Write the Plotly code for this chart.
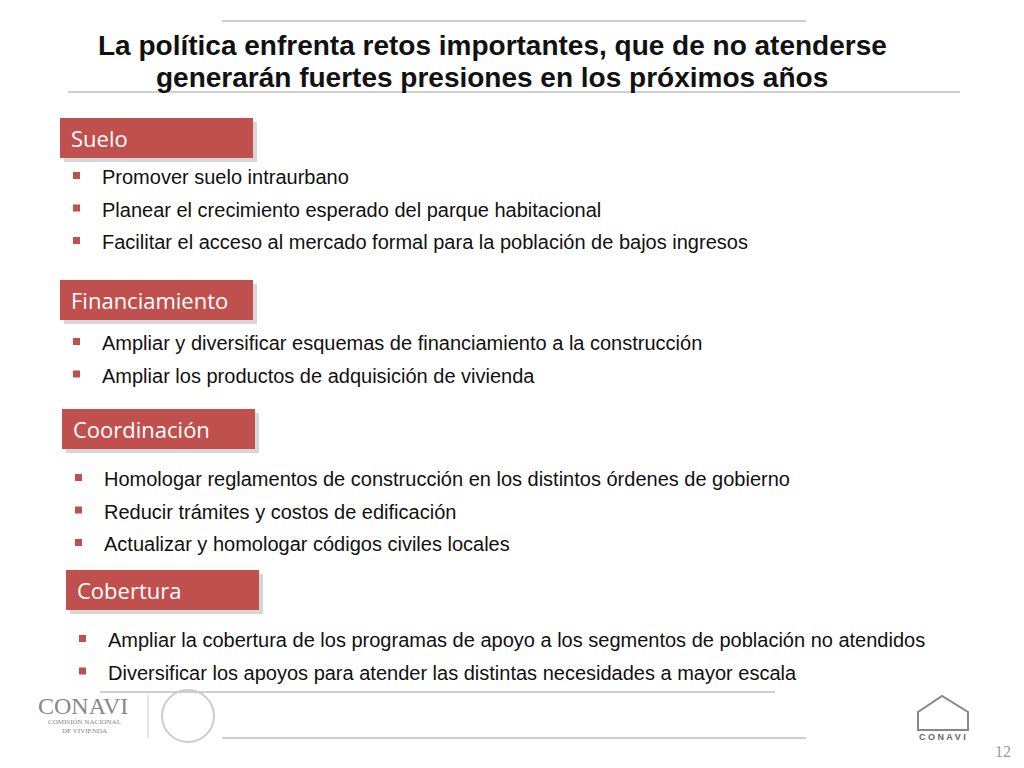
import plotly.graph_objects as go

title_lines = ["La política enfrenta retos importantes, que de no atenderse",
               "generarán fuertes presiones en los próximos años"]
sections = ["Suelo", "Financiamiento", "Coordinación", "Cobertura"]
section_box_y = [138, 300, 429, 590]
section_box_x = [60, 60, 62, 66]
bullets = [
    ["Promover suelo intraurbano",
     "Planear el crecimiento esperado del parque habitacional",
     "Facilitar el acceso al mercado formal para la población de bajos ingresos"],
    ["Ampliar y diversificar esquemas de financiamiento a la construcción",
     "Ampliar los productos de adquisición de vivienda"],
    ["Homologar reglamentos de construcción en los distintos órdenes de gobierno",
     "Reducir trámites y costos de edificación",
     "Actualizar y homologar códigos civiles locales"],
    ["Ampliar la cobertura de los programas de apoyo a los segmentos de población no atendidos",
     "Diversificar los apoyos para atender las distintas necesidades a mayor escala"],
]
bullet_first_y = [177, 343, 479, 640]
page_number = "12"

RED = "#c0504d"
fig = go.Figure()
shapes, ann = [], []

for i, t in enumerate(title_lines):
    ann.append(dict(x=492, y=45 + 32 * i, text=f"<b>{t}</b>", showarrow=False,
                    font=dict(family="Liberation Sans, Arial", size=28, color="#111")))

for x0, x1, y in [(222, 806, 21), (68, 960, 92), (100, 775, 692), (222, 806, 738)]:
    shapes.append(dict(type="line", x0=x0, x1=x1, y0=y, y1=y,
                       line=dict(color="#cfcfcf", width=2)))

for s, bx, by, items, fy in zip(sections, section_box_x, section_box_y, bullets, bullet_first_y):
    shapes.append(dict(type="rect", x0=bx + 4, x1=bx + 197, y0=by - 16, y1=by + 24,
                       fillcolor="#bbbbbb", line=dict(width=0), opacity=0.6))
    shapes.append(dict(type="rect", x0=bx, x1=bx + 193, y0=by - 20, y1=by + 20,
                       fillcolor=RED, line=dict(width=0)))
    ann.append(dict(x=bx + 9, y=by, text=s, showarrow=False, xanchor="left",
                    font=dict(family="Open Sans, Lato", size=22, color="white")))
    for j, b in enumerate(items):
        y = fy + 32.5 * j
        bxp = bx + 13
        shapes.append(dict(type="rect", x0=bxp, x1=bxp + 7, y0=y - 5, y1=y + 2,
                           fillcolor=RED, line=dict(width=0)))
        ann.append(dict(x=bxp + 27, y=y, text=b, showarrow=False, xanchor="left",
                        font=dict(family="Liberation Sans, Arial", size=20, color="#111")))

ann += [
    dict(x=36, y=706, text="CONAVI", showarrow=False, xanchor="left",
         font=dict(family="Liberation Serif", size=24, color="#888")),
    dict(x=46, y=726, text="COMISIÓN NACIONAL<br>DE VIVIENDA", showarrow=False, xanchor="left",
         font=dict(family="Liberation Serif", size=7, color="#888")),
    dict(x=942, y=737, text="<b>C O N A V I</b>", showarrow=False,
         font=dict(family="Liberation Sans", size=9, color="#666")),
    dict(x=1003, y=751, text=page_number, showarrow=False,
         font=dict(family="Liberation Serif", size=16, color="#999")),
]
shapes.append(dict(type="circle", x0=162, x1=214, y0=690, y1=742,
                   line=dict(color="#ccc", width=2)))
shapes.append(dict(type="line", x0=148, x1=148, y0=695, y1=738, line=dict(color="#ccc", width=1)))
shapes.append(dict(type="path", path="M918,712 L942,696 L968,712 L968,730 L918,730 Z",
                   line=dict(color="#888", width=2)))

OFF = 8  # page body margin
fig.update_layout(width=1024, height=768, margin=dict(l=0, r=0, t=0, b=0),
                  paper_bgcolor="white", plot_bgcolor="white",
                  xaxis=dict(range=[OFF, 1024 + OFF], visible=False),
                  yaxis=dict(range=[768 + OFF, OFF], visible=False),
                  shapes=shapes, annotations=ann, showlegend=False)
fig.write_html("out.html")
